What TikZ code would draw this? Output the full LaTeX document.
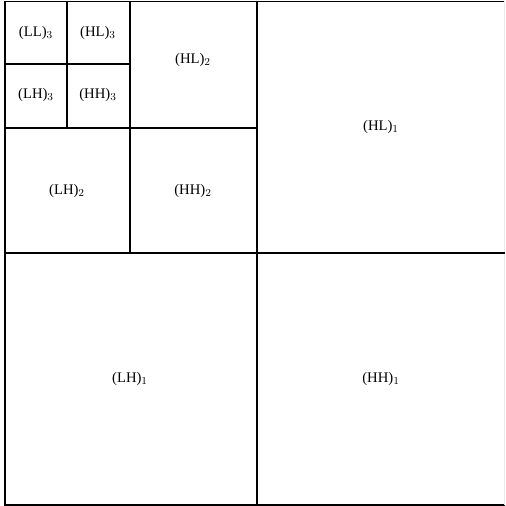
\documentclass[tikz,border=0pt]{standalone}
\usepackage{fontspec}
\setmainfont{Liberation Serif}
\usetikzlibrary{positioning}

\begin{document}
\begin{tikzpicture}[x=0.75pt,y=-0.75pt,font=\fontsize{11}{13}\selectfont,
  ln/.style={draw=black,line width=0.9pt},
  lb/.style={inner sep=1pt}]
\useasboundingbox (0,0) rectangle (506,506);
% outer square and subband lines
\draw[ln] (505,1.5) -- (5,1.5) -- (5,505) -- (505,505);
\draw[draw=black!8,line width=0.6pt] (504.5,1.5) -- (504.5,505);
\draw[ln] (257,1.5) -- (257,505);
\draw[ln] (5,253) -- (505,253);
\draw[ln] (130,1.5) -- (130,253);
\draw[ln] (5,128) -- (257,128);
\draw[ln] (67,1.5) -- (67,128);
\draw[ln] (5,64) -- (130,64);
% labels
\node[lb] (ll3) at (36,33) {(LL)$_3$};
\node[lb] (hl3) at (98,33) {(HL)$_3$};
\node[lb] (lh3) at (36,95) {(LH)$_3$};
\node[lb] (hh3) at (98,95) {(HH)$_3$};
\node[lb] (hl2) at (193,60) {(HL)$_2$};
\node[lb] (lh2) at (67,191) {(LH)$_2$};
\node[lb] (hh2) at (193,191) {(HH)$_2$};
\node[lb] (hl1) at (381,127) {(HL)$_1$};
\node[lb] (lh1) at (130,379) {(LH)$_1$};
\node[lb] (hh1) at (381,379) {(HH)$_1$};
\end{tikzpicture}
\end{document}
